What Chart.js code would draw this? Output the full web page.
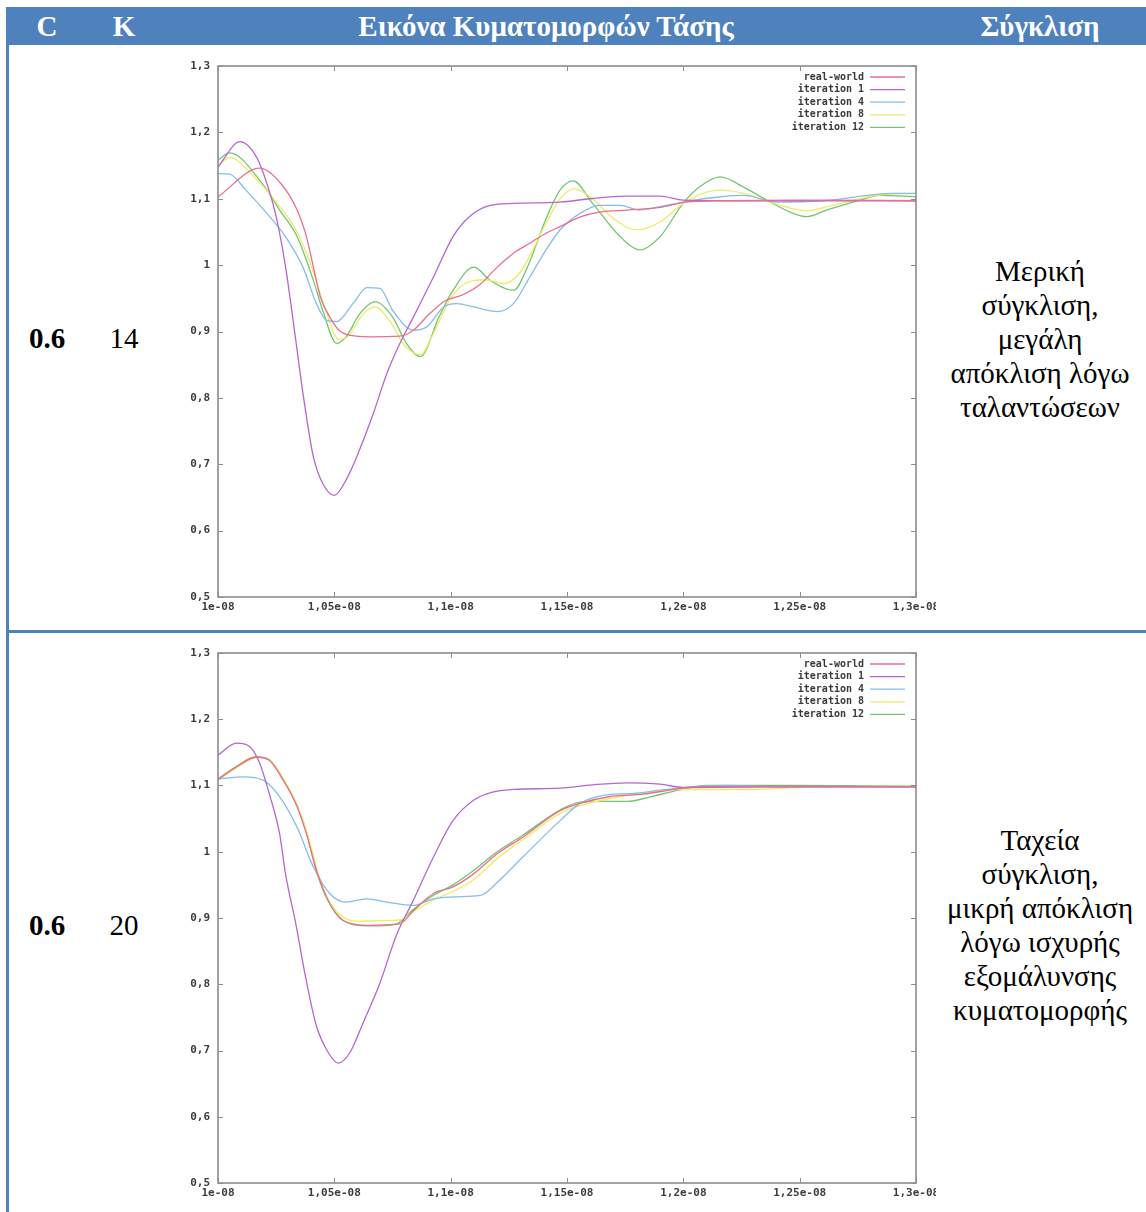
<!DOCTYPE html>
<html>
<head>
<meta charset="utf-8">
<title>Κυματομορφές τάσης</title>
<script src="https://cdn.jsdelivr.net/npm/chart.js@4/dist/chart.umd.min.js"></script>
<style>
  html, body { margin: 0; padding: 0; background: #fff; }
  body { width: 1146px; height: 1212px; position: relative; overflow: hidden;
         font-family: "Liberation Serif", "Times New Roman", serif; color: #000; }
  .hdr { position: absolute; left: 6px; top: 7px; width: 1140px; height: 38px; background: #4f81bd; }
  .h { position: absolute; top: 0; height: 38px; line-height: 39px; color: #fff; font-weight: bold;
       font-size: 29px; transform: translateX(-50%); white-space: nowrap; }
  .vline { position: absolute; left: 6px; top: 45px; width: 3px; height: 1167px; background: #4f81bd; }
  .hline { position: absolute; left: 6px; top: 630px; width: 1140px; height: 3px; background: #4f81bd; }
  .cell { position: absolute; font-size: 29px; transform: translate(-50%, -50%); white-space: nowrap; }
  .cell.b { font-weight: bold; }
  .note { position: absolute; left: 935px; width: 210px; text-align: center; font-size: 29px; line-height: 34px; }
  .plot { position: absolute; left: 180px; }
</style>
</head>
<body>
<div class="hdr">
  <div class="h" style="left:41px">C</div>
  <div class="h" style="left:118px">K</div>
  <div class="h" style="left:540px">Εικόνα Κυματομορφών Τάσης</div>
  <div class="h" style="left:1034px">Σύγκλιση</div>
</div>
<div class="vline"></div>
<div class="hline"></div>

<div class="cell b" style="left:47px;top:338px">0.6</div>
<div class="cell" style="left:124px;top:338px">14</div>
<div class="note" style="top:254px">Μερική<br>σύγκλιση,<br>μεγάλη<br>απόκλιση λόγω<br>ταλαντώσεων</div>

<div class="cell b" style="left:47px;top:925px">0.6</div>
<div class="cell" style="left:124px;top:925px">20</div>
<div class="note" style="top:823px">Ταχεία<br>σύγκλιση,<br>μικρή απόκλιση<br>λόγω ισχυρής<br>εξομάλυνσης<br>κυματομορφής</div>

<canvas id="chartK14" class="plot" style="top:56px" width="756" height="561"></canvas>
<canvas id="chartK20" class="plot" style="top:643px" width="756" height="560"></canvas>

<script>
// Time axis in nanoseconds, labelled in seconds the way gnuplot prints them
const timeTicksNs = [10, 10.5, 11, 11.5, 12, 12.5, 13];
const timeTickLabels = ['1e-08', '1,05e-08', '1,1e-08', '1,15e-08', '1,2e-08', '1,25e-08', '1,3e-08'];
const voltTicks = [0.5, 0.6, 0.7, 0.8, 0.9, 1.0, 1.1, 1.2, 1.3];
const voltTickLabels = ['0,5', '0,6', '0,7', '0,8', '0,9', '1', '1,1', '1,2', '1,3'];

const seriesNames = ['real-world', 'iteration 1', 'iteration 4', 'iteration 8', 'iteration 12'];
const seriesColors = ['#e8708c', '#b468cc', '#86bde8', '#ecec66', '#74c474'];

// K = 14 : [time ns, voltage]
const k14RealWorld = [[10.00,1.103],[10.18,1.146],[10.27,1.123],[10.34,1.083],[10.38,1.043],[10.41,0.997],[10.44,0.952],[10.48,0.922],[10.52,0.902],[10.57,0.894],[10.65,0.892],[10.78,0.893],[10.84,0.902],[10.91,0.927],[10.98,0.947],[11.05,0.955],[11.13,0.972],[11.20,0.997],[11.27,1.018],[11.34,1.033],[11.41,1.048],[11.47,1.058],[11.56,1.073],[11.64,1.080],[11.76,1.083],[11.90,1.087],[12.01,1.095],[12.18,1.097],[12.50,1.098],[13.00,1.097]];
const k14Iter1 = [[10.00,1.148],[10.095,1.186],[10.165,1.163],[10.21,1.123],[10.25,1.073],[10.29,0.998],[10.335,0.885],[10.366,0.805],[10.41,0.711],[10.45,0.671],[10.50,0.653],[10.55,0.676],[10.596,0.711],[10.667,0.776],[10.725,0.836],[10.775,0.877],[10.84,0.922],[10.926,0.982],[11.01,1.043],[11.08,1.073],[11.17,1.090],[11.27,1.093],[11.47,1.095],[11.60,1.100],[11.75,1.104],[11.90,1.104],[12.00,1.098],[12.30,1.097],[13.00,1.097]];
const k14Iter4 = [[10.00,1.138],[10.05,1.137],[10.12,1.113],[10.21,1.078],[10.29,1.043],[10.365,0.997],[10.423,0.942],[10.466,0.917],[10.51,0.915],[10.58,0.942],[10.64,0.966],[10.696,0.965],[10.75,0.932],[10.84,0.902],[10.897,0.907],[10.97,0.937],[11.026,0.942],[11.10,0.937],[11.20,0.930],[11.27,0.942],[11.34,0.982],[11.41,1.023],[11.47,1.053],[11.556,1.078],[11.64,1.090],[11.728,1.090],[11.81,1.083],[11.90,1.088],[12.00,1.095],[12.16,1.103],[12.26,1.105],[12.40,1.095],[12.60,1.097],[12.90,1.108],[13.00,1.108]];
const k14Iter8 = [[10.00,1.150],[10.05,1.162],[10.15,1.135],[10.25,1.095],[10.34,1.050],[10.41,0.990],[10.46,0.935],[10.52,0.888],[10.56,0.893],[10.62,0.925],[10.675,0.937],[10.74,0.915],[10.80,0.880],[10.87,0.865],[10.93,0.900],[11.00,0.950],[11.08,0.975],[11.15,0.978],[11.23,0.972],[11.30,0.990],[11.41,1.063],[11.47,1.100],[11.53,1.115],[11.61,1.100],[11.70,1.070],[11.80,1.053],[11.90,1.065],[12.00,1.093],[12.10,1.110],[12.16,1.113],[12.26,1.108],[12.40,1.092],[12.53,1.082],[12.62,1.088],[12.76,1.100],[12.85,1.106],[13.00,1.108]];
const k14Iter12 = [[10.00,1.158],[10.05,1.169],[10.19,1.123],[10.265,1.083],[10.34,1.043],[10.41,0.977],[10.45,0.932],[10.51,0.882],[10.55,0.892],[10.61,0.927],[10.675,0.945],[10.75,0.922],[10.81,0.882],[10.87,0.862],[10.95,0.922],[11.01,0.962],[11.10,0.997],[11.17,0.977],[11.27,0.962],[11.33,0.997],[11.41,1.070],[11.47,1.113],[11.526,1.127],[11.61,1.093],[11.728,1.043],[11.814,1.023],[11.90,1.043],[11.999,1.093],[12.07,1.118],[12.158,1.133],[12.257,1.118],[12.358,1.098],[12.472,1.078],[12.529,1.073],[12.616,1.083],[12.76,1.098],[12.845,1.105],[13.00,1.103]];

// K = 20 : [time ns, voltage]
const k20RealWorld = [[10.00,1.109],[10.079,1.128],[10.165,1.143],[10.22,1.138],[10.28,1.108],[10.34,1.068],[10.38,1.027],[10.423,0.972],[10.466,0.932],[10.52,0.901],[10.58,0.891],[10.64,0.889],[10.78,0.891],[10.84,0.911],[10.926,0.937],[11.01,0.947],[11.10,0.967],[11.20,0.997],[11.31,1.022],[11.47,1.062],[11.556,1.073],[11.68,1.083],[11.828,1.087],[11.94,1.093],[12.043,1.098],[12.50,1.099],[13.00,1.098]];
const k20Iter1 = [[10.00,1.146],[10.079,1.164],[10.136,1.159],[10.18,1.133],[10.22,1.088],[10.265,1.027],[10.29,0.967],[10.335,0.890],[10.373,0.817],[10.423,0.737],[10.474,0.697],[10.517,0.681],[10.567,0.697],[10.624,0.742],[10.696,0.802],[10.768,0.875],[10.84,0.927],[10.926,0.992],[11.01,1.047],[11.10,1.078],[11.18,1.090],[11.27,1.094],[11.47,1.096],[11.61,1.101],[11.757,1.104],[11.90,1.102],[12.00,1.097],[12.50,1.098],[13.00,1.098]];
const k20Iter4 = [[10.00,1.110],[10.108,1.113],[10.194,1.108],[10.265,1.083],[10.34,1.037],[10.41,0.977],[10.48,0.937],[10.55,0.924],[10.64,0.929],[10.725,0.924],[10.84,0.919],[10.926,0.929],[11.026,0.932],[11.127,0.934],[11.21,0.957],[11.31,0.992],[11.47,1.047],[11.556,1.073],[11.656,1.085],[11.785,1.088],[11.90,1.093],[12.04,1.098],[12.20,1.100],[12.40,1.098],[13.00,1.098]];
const k20Iter8 = [[10.00,1.108],[10.08,1.127],[10.17,1.142],[10.23,1.136],[10.29,1.105],[10.35,1.062],[10.39,1.020],[10.43,0.968],[10.47,0.930],[10.53,0.903],[10.60,0.895],[10.70,0.896],[10.78,0.897],[10.85,0.912],[10.93,0.928],[11.01,0.940],[11.10,0.958],[11.20,0.990],[11.31,1.018],[11.47,1.058],[11.56,1.070],[11.68,1.080],[11.83,1.088],[11.95,1.094],[12.10,1.094],[12.30,1.094],[12.50,1.097],[13.00,1.099]];
const k20Iter12 = [[10.00,1.110],[10.08,1.129],[10.16,1.143],[10.22,1.139],[10.28,1.110],[10.34,1.070],[10.38,1.030],[10.42,0.975],[10.46,0.935],[10.52,0.902],[10.58,0.890],[10.66,0.888],[10.76,0.890],[10.84,0.913],[10.93,0.935],[11.01,0.950],[11.10,0.972],[11.20,1.000],[11.31,1.025],[11.47,1.063],[11.556,1.075],[11.65,1.076],[11.76,1.076],[11.86,1.083],[11.98,1.093],[12.10,1.100],[12.50,1.100],[13.00,1.099]];

const tickFont = { family: '"DejaVu Sans Mono", monospace', size: 11, weight: 'bold' };
const tickColor = '#3c3c3c';

// gnuplot-style box: border, inward mirrored tick marks and a legend in the top-right corner
const gnuplotFrame = {
  id: 'gnuplotFrame',
  afterDatasetsDraw(chart) {
    const { ctx, chartArea: a, scales: { x, y } } = chart;
    ctx.save();
    ctx.strokeStyle = '#8c8c8c';
    ctx.lineWidth = 1.6;
    ctx.strokeRect(a.left, a.top, a.width, a.height);
    ctx.lineWidth = 1;
    ctx.beginPath();
    x.ticks.forEach(t => {
      const px = Math.round(x.getPixelForValue(t.value)) + 0.5;
      ctx.moveTo(px, a.top); ctx.lineTo(px, a.top + 5);
      ctx.moveTo(px, a.bottom); ctx.lineTo(px, a.bottom - 5);
    });
    y.ticks.forEach(t => {
      const py = Math.round(y.getPixelForValue(t.value)) + 0.5;
      ctx.moveTo(a.left, py); ctx.lineTo(a.left + 5, py);
      ctx.moveTo(a.right, py); ctx.lineTo(a.right - 5, py);
    });
    ctx.stroke();

    ctx.font = 'bold 10px "DejaVu Sans Mono", monospace';
    ctx.textAlign = 'right';
    ctx.textBaseline = 'middle';
    chart.data.datasets.forEach((ds, i) => {
      const ly = a.top + 11 + i * 12.6;
      ctx.fillStyle = '#3a3a3a';
      ctx.fillText(ds.label, a.right - 52, ly);
      ctx.strokeStyle = ds.borderColor;
      ctx.lineWidth = 1.3;
      ctx.beginPath();
      ctx.moveTo(a.right - 46, ly); ctx.lineTo(a.right - 11, ly);
      ctx.stroke();
    });
    ctx.restore();
  }
};

function makeChart(canvasId, series) {
  return new Chart(document.getElementById(canvasId), {
    type: 'line',
    data: {
      datasets: series.map((pts, i) => ({
        label: seriesNames[i],
        data: pts.map(([t, v]) => ({ x: t, y: v })),
        borderColor: seriesColors[i],
        backgroundColor: seriesColors[i],
        borderWidth: 1.3,
        pointRadius: 0,
        fill: false,
        cubicInterpolationMode: 'monotone'
      }))
    },
    options: {
      responsive: false,
      animation: false,
      layout: { padding: { top: 10, right: 20, bottom: 0, left: 0 } },
      plugins: { legend: { display: false }, tooltip: { enabled: false } },
      scales: {
        x: {
          type: 'linear', min: 10, max: 13,
          afterBuildTicks: s => { s.ticks = timeTicksNs.map(v => ({ value: v })); },
          afterFit: s => { s.height = 20; s.paddingLeft = 0; s.paddingRight = 0; },
          grid: { display: false, drawTicks: false },
          border: { display: false },
          ticks: {
            autoSkip: false, maxRotation: 0, padding: 4, font: tickFont, color: tickColor,
            callback: (v, i) => timeTickLabels[i]
          }
        },
        y: {
          type: 'linear', min: 0.5, max: 1.3,
          afterBuildTicks: s => { s.ticks = voltTicks.map(v => ({ value: v })); },
          afterFit: s => { s.width = 38; s.paddingTop = 0; s.paddingBottom = 0; },
          grid: { display: false, drawTicks: false },
          border: { display: false },
          ticks: {
            autoSkip: false, padding: 8, font: tickFont, color: tickColor,
            callback: (v, i) => voltTickLabels[i]
          }
        }
      }
    },
    plugins: [gnuplotFrame]
  });
}

makeChart('chartK14', [k14RealWorld, k14Iter1, k14Iter4, k14Iter8, k14Iter12]);
makeChart('chartK20', [k20RealWorld, k20Iter1, k20Iter4, k20Iter8, k20Iter12]);
</script>
</body>
</html>
